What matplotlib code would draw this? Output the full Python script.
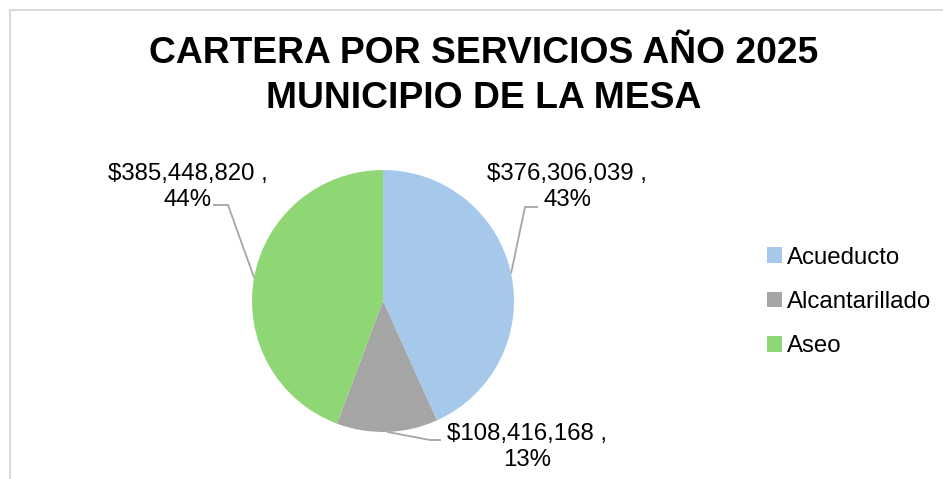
import numpy as np
import matplotlib
matplotlib.use("Agg")
import matplotlib.pyplot as plt
from matplotlib.lines import Line2D

categories = ["Acueducto", "Alcantarillado", "Aseo"]
values = [376306039, 108416168, 385448820]
value_labels = ["$376,306,039 ,", "$108,416,168 ,", "$385,448,820 ,"]
pct_labels = ["43%", "13%", "44%"]
colors = ["#A6C9EB", "#A5A5A5", "#8FD775"]
title = "CARTERA POR SERVICIOS AÑO 2025\nMUNICIPIO DE LA MESA"

W, H = 943, 479
plt.rcParams['font.family'] = ['Liberation Sans', 'DejaVu Sans']
fig = plt.figure(figsize=(W / 100, H / 100), dpi=100)
ax = fig.add_axes([0, 0, 1, 1])

def py(y):  # pixel-from-top -> data y
    return H - y

cx, cy, R = 383, py(301), 131
wedges, _ = ax.pie(values, colors=colors, startangle=90, counterclock=False,
                   center=(cx, cy), radius=R, wedgeprops=dict(linewidth=0))
ax.set_xlim(0, W)
ax.set_ylim(0, H)
ax.set_aspect('equal')
ax.axis('off')

# label layout: (elbow, end of leader, text centre)
layout = [
    ((525, 207), (538, 207), (567, 187)),
    ((430, 440), (441, 440), (527, 447)),
    ((228, 205), (213, 205), (188, 187)),
]
fs = 17.3
for w, vl, pl, (elb, end, tc) in zip(wedges, value_labels, pct_labels, layout):
    ang = np.deg2rad((w.theta1 + w.theta2) / 2)
    ax_, ay_ = cx + R * np.cos(ang), cy + R * np.sin(ang)
    ax.plot([ax_, elb[0], end[0]], [ay_, py(elb[1]), py(end[1])],
            color="#A6A6A6", lw=1.3, solid_capstyle='butt')
    ax.text(tc[0], py(tc[1]), vl + "\n" + pl, ha='center', va='center',
            fontsize=fs, color='black', linespacing=1.27)

ax.text(484, py(76), title, ha='center', va='center', fontsize=26.8,
        fontweight='bold', color='black', linespacing=1.38)

leg = ax.legend(wedges, categories, loc='center left',
                bbox_to_anchor=(767 / W, 1 - 302 / H), frameon=False,
                fontsize=fs, handlelength=0.62, handleheight=0.62,
                handletextpad=0.2, labelspacing=0.93, borderpad=0,
                borderaxespad=0)

# chart-area border (left and top)
fig.add_artist(Line2D([10 / W, 10 / W], [0, 1 - 10 / H], transform=fig.transFigure,
                      color="#D9D9D9", lw=1.5))
fig.add_artist(Line2D([10 / W, 1], [1 - 10 / H, 1 - 10 / H], transform=fig.transFigure,
                      color="#D9D9D9", lw=1.5))

fig.savefig("out.png", dpi=100, facecolor='white')
